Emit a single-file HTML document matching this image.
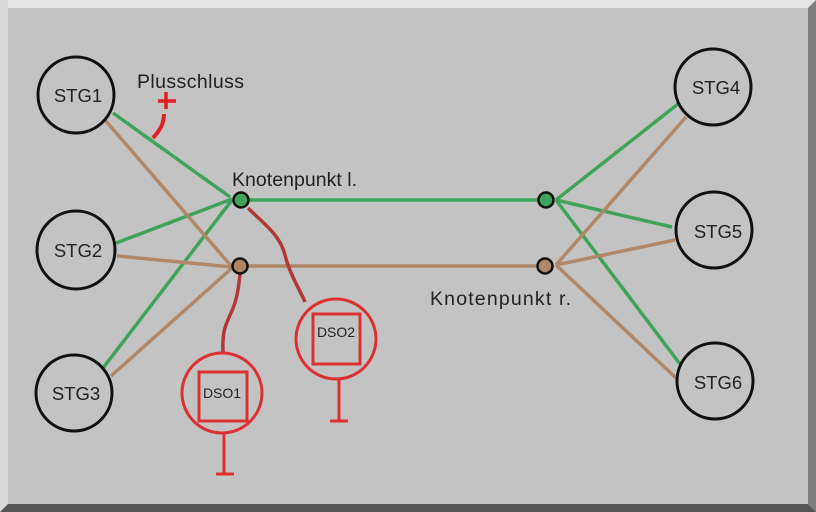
<!DOCTYPE html>
<html><head><meta charset="utf-8"><style>
html,body{margin:0;padding:0;width:816px;height:512px;overflow:hidden;background:#c3c3c3}
svg{display:block}
text{font-family:"Liberation Sans",sans-serif;fill:#222}
</style></head><body>
<svg width="816" height="512" xmlns="http://www.w3.org/2000/svg">
<rect x="0" y="0" width="816" height="512" fill="#c3c3c3"/>
<rect x="0" y="0" width="816" height="8" fill="#e4e4e4"/>
<rect x="0" y="0" width="8" height="512" fill="#d9d9d9"/>
<polygon points="808,8 816,0 816,512 808,504" fill="#7f7f7f"/>
<polygon points="0,512 8,504 808,504 816,512" fill="#555"/>
<g stroke-width="3.5" fill="none">
<line x1="113" y1="113" x2="230" y2="197" stroke="#3fa45a"/>
<line x1="116" y1="243" x2="232" y2="199" stroke="#3fa45a"/>
<line x1="103" y1="368" x2="232" y2="200" stroke="#3fa45a"/>
<line x1="105" y1="120" x2="232" y2="267" stroke="#b08868"/>
<line x1="117" y1="256" x2="232" y2="267" stroke="#b08868"/>
<line x1="111" y1="376" x2="232" y2="268" stroke="#b08868"/>
<line x1="241" y1="200" x2="546" y2="200" stroke="#3fa45a"/>
<line x1="241" y1="266" x2="546" y2="266" stroke="#b08868"/>
<line x1="556" y1="200" x2="678" y2="104" stroke="#3fa45a"/>
<line x1="556" y1="200" x2="672" y2="227" stroke="#3fa45a"/>
<line x1="556" y1="200" x2="680" y2="364" stroke="#3fa45a"/>
<line x1="556" y1="265" x2="686" y2="117" stroke="#b08868"/>
<line x1="556" y1="265" x2="675" y2="240" stroke="#b08868"/>
<line x1="556" y1="265" x2="676" y2="378" stroke="#b08868"/>
<path d="M248,208 C265,225 280,235 285,255 C290,275 300,290 305,302" stroke="#b03838"/>
<path d="M240,274 C238,295 235,305 230,315 C226,325 222,330 223,353" stroke="#b03838"/>
<path d="M164,114 C164,124 160,130 153,138" stroke="#e02020" stroke-width="4"/>
</g>
<g stroke="#e02020" stroke-width="3.5"><line x1="158" y1="101" x2="176" y2="101"/><line x1="166" y1="92" x2="166" y2="109"/></g>
<g stroke="#111" stroke-width="3" fill="none">
<circle cx="76" cy="95" r="38"/><circle cx="76" cy="250" r="39"/><circle cx="74" cy="393" r="38"/>
<circle cx="713" cy="87" r="38"/><circle cx="714" cy="230" r="38"/><circle cx="715" cy="381" r="38"/>
</g>
<g stroke="#111" stroke-width="2.5">
<circle cx="241" cy="200" r="7.5" fill="#3fa45a"/><circle cx="240" cy="266" r="7.5" fill="#b08868"/>
<circle cx="546" cy="200" r="7.5" fill="#3fa45a"/><circle cx="545" cy="266" r="7.5" fill="#b08868"/>
</g>
<g stroke="#dd3030" stroke-width="3" fill="none">
<circle cx="222" cy="393" r="40"/><rect x="199" y="372" width="48" height="49"/>
<line x1="224" y1="433" x2="224" y2="474"/><line x1="216" y1="474" x2="234" y2="474"/>
<circle cx="336" cy="339" r="40"/><rect x="313" y="314" width="47" height="50"/>
<line x1="339" y1="379" x2="339" y2="421"/><line x1="330" y1="421" x2="348" y2="421"/>
</g>
<g font-size="18.5">
<text x="78" y="102" text-anchor="middle">STG1</text>
<text x="78" y="257" text-anchor="middle">STG2</text>
<text x="76" y="400" text-anchor="middle">STG3</text>
<text x="716" y="94" text-anchor="middle">STG4</text>
<text x="718" y="238" text-anchor="middle">STG5</text>
<text x="718" y="389" text-anchor="middle">STG6</text>
</g>
<g font-size="19.5">
<text x="137" y="88" textLength="107">Plusschluss</text>
<text x="232" y="186" textLength="125">Knotenpunkt l.</text>
<text x="430" y="305" textLength="141">Knotenpunkt r.</text>
</g>
<g font-size="14">
<text x="222" y="398" text-anchor="middle">DSO1</text>
<text x="336" y="337" text-anchor="middle">DSO2</text>
</g>
</svg>
</body></html>
